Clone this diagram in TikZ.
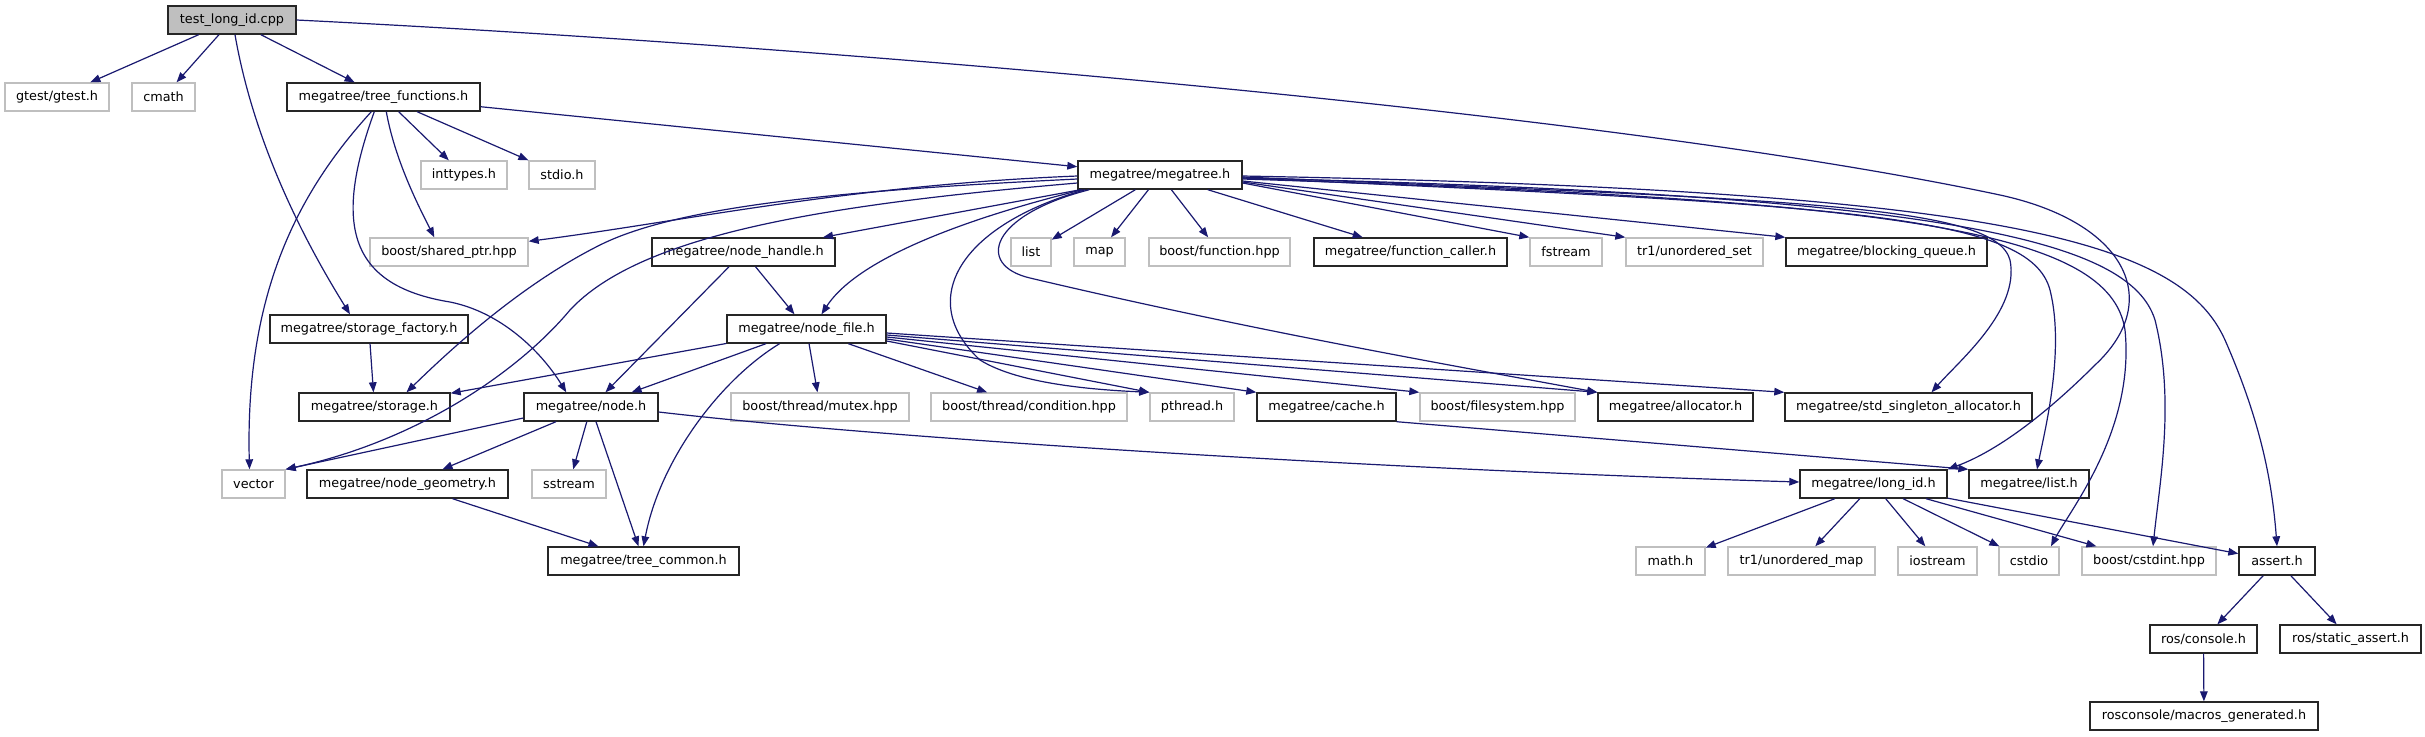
\documentclass[tikz,border=0pt]{standalone}
\usepackage{fontspec}
\setmainfont{DejaVu Sans}
\usetikzlibrary{arrows.meta,calc}
\definecolor{edgeblue}{HTML}{191970}
\definecolor{extgray}{HTML}{BFBFBF}
\tikzset{
  box/.style={draw, rectangle, inner sep=0pt, minimum height=14pt, line width=0.7pt,
    font=\fontsize{6.4}{7.6}\selectfont, text=black, fill=white},
  intbox/.style={box, draw=black!85},
  extbox/.style={box, draw=extgray},
  rootbox/.style={box, draw=black!85, fill=extgray},
  edge/.style={draw=edgeblue, line width=0.6pt, -{Triangle[length=5pt,width=3.8pt]}},
}
\newcommand\bx[6]{\node[#5, minimum width={(#3-#2)*0.5pt}] (#1) at ({(#2+#3)/2},{#4+14}) {#6};}
\begin{document}
\begin{tikzpicture}[x=0.5pt,y=-0.5pt]
\fill[white] (0,0) rectangle (2425,736);
\useasboundingbox (0,0) rectangle (2425,736);
% row 0
\bx{root}{168}{296}{6}{rootbox}{test\_long\_id.cpp}
% row 1
\bx{gtest}{5}{109}{83}{extbox}{gtest/gtest.h}
\bx{cmath}{132}{195}{83}{extbox}{cmath}
\bx{treefn}{287}{480}{83}{intbox}{megatree/tree\_functions.h}
% row 2
\bx{inttypes}{421}{507}{161}{extbox}{inttypes.h}
\bx{stdio}{529}{595}{161}{extbox}{stdio.h}
\bx{megatree}{1078}{1242}{161}{intbox}{megatree/megatree.h}
% row 3
\bx{sharedptr}{370}{528}{238}{extbox}{boost/shared\_ptr.hpp}
\bx{nodehandle}{652}{835}{238}{intbox}{megatree/node\_handle.h}
\bx{list}{1011}{1051}{238}{extbox}{list}
\bx{map}{1074}{1125}{238}{extbox}{map}
\bx{function}{1149}{1290}{238}{extbox}{boost/function.hpp}
\bx{funccaller}{1314}{1507}{238}{intbox}{megatree/function\_caller.h}
\bx{fstream}{1530}{1602}{238}{extbox}{fstream}
\bx{uset}{1626}{1763}{238}{extbox}{tr1/unordered\_set}
\bx{bqueue}{1786}{1987}{238}{intbox}{megatree/blocking\_queue.h}
% row 4
\bx{sfactory}{270}{468}{315}{intbox}{megatree/storage\_factory.h}
\bx{nodefile}{727}{886}{315}{intbox}{megatree/node\_file.h}
% row 5
\bx{storage}{299}{450}{393}{intbox}{megatree/storage.h}
\bx{node}{524}{658}{393}{intbox}{megatree/node.h}
\bx{mutex}{731}{909}{393}{extbox}{boost/thread/mutex.hpp}
\bx{condition}{931}{1127}{393}{extbox}{boost/thread/condition.hpp}
\bx{pthread}{1150}{1234}{393}{extbox}{pthread.h}
\bx{cache}{1257}{1396}{393}{intbox}{megatree/cache.h}
\bx{filesystem}{1420}{1575}{393}{extbox}{boost/filesystem.hpp}
\bx{allocator}{1598}{1753}{393}{intbox}{megatree/allocator.h}
\bx{stdsingleton}{1785}{2032}{393}{intbox}{megatree/std\_singleton\_allocator.h}
% row 6
\bx{vector}{222}{285}{470}{extbox}{vector}
\bx{geometry}{307}{508}{470}{intbox}{megatree/node\_geometry.h}
\bx{sstream}{532}{606}{470}{extbox}{sstream}
\bx{longid}{1800}{1947}{470}{intbox}{megatree/long\_id.h}
\bx{listh}{1969}{2089}{470}{intbox}{megatree/list.h}
% row 7
\bx{treecommon}{548}{739}{547}{intbox}{megatree/tree\_common.h}
\bx{mathh}{1636}{1705}{547}{extbox}{math.h}
\bx{umap}{1728}{1875}{547}{extbox}{tr1/unordered\_map}
\bx{iostream}{1898}{1977}{547}{extbox}{iostream}
\bx{cstdio}{1999}{2059}{547}{extbox}{cstdio}
\bx{cstdint}{2082}{2216}{547}{extbox}{boost/cstdint.hpp}
\bx{assert}{2239}{2315}{547}{intbox}{assert.h}
% row 8
\bx{console}{2150}{2257}{625}{intbox}{ros/console.h}
\bx{staticassert}{2280}{2421}{625}{intbox}{ros/static\_assert.h}
% row 9
\bx{macros}{2090}{2318}{702}{intbox}{rosconsole/macros\_generated.h}

% root edges
\draw[edge] (root) -- (gtest);
\draw[edge] (root) -- (cmath);
\draw[edge] (root) -- (treefn);
\draw[edge] ($(root.south)+(3,0)$) .. controls (255,150) and (310,250) .. ($(sfactory.north)+(-19,0)$);
\draw[edge] (root.east) .. controls (800,45) and (1600,110) .. (2000,195) .. controls (2125,222) and (2165,300) .. (2095,365) .. controls (2050,410) and (2000,450) .. (longid.north east);
% tree_functions edges
\draw[edge] (treefn) -- (inttypes);
\draw[edge] (treefn) -- (stdio);
\draw[edge] ($(treefn.south west)+(100,0)$) .. controls (395,160) and (418,205) .. ($(sharedptr.north west)+(65,0)$);
\draw[edge] ($(treefn.south west)+(85,0)$) .. controls (300,190) and (245,290) .. ($(vector.north)+(-4,0)$);
\draw[edge] ($(treefn.south west)+(88,0)$) .. controls (335,220) and (345,285) .. (450,302) .. controls (500,312) and (540,350) .. ($(node.north west)+(43,0)$);
\draw[edge] (treefn) -- (megatree);
% megatree edges
\draw[edge] ($(megatree.west)+(0,1)$) .. controls (850,185) and (680,222) .. ($(sharedptr.north east)+(0,4)$);
\draw[edge] ($(megatree.west)+(0,4)$) .. controls (850,190) and (680,205) .. (600,245) .. controls (520,285) and (450,350) .. ($(storage.north)+(32,0)$);
\draw[edge] ($(megatree.west)+(0,8)$) .. controls (820,205) and (640,235) .. (570,310) .. controls (520,370) and (420,440) .. (vector.north east);
\draw[edge] (megatree) -- (nodehandle);
\draw[edge] ($(megatree.south west)+(5,0)$) .. controls (980,215) and (860,255) .. ($(nodefile.north)+(15,0)$);
\draw[edge] ($(megatree.south west)+(8,0)$) .. controls (960,225) and (915,300) .. (980,360) .. controls (1020,385) and (1100,390) .. (pthread.north west);
\draw[edge] ($(megatree.south west)+(12,0)$) .. controls (990,215) and (975,265) .. (1030,278) .. controls (1250,330) and (1450,365) .. (allocator.north west);
\draw[edge] (megatree) -- (list);
\draw[edge] (megatree) -- (map);
\draw[edge] (megatree) -- (function);
\draw[edge] (megatree) -- (funccaller);
\draw[edge] ($(megatree.east)+(0,8)$) -- (fstream.north west);
\draw[edge] ($(megatree.east)+(0,7)$) -- (uset.north west);
\draw[edge] ($(megatree.east)+(0,6)$) -- (bqueue.north west);
\draw[edge] ($(megatree.east)+(0,2)$) .. controls (1800,200) and (1995,205) .. (2010,260) .. controls (2020,310) and (1960,360) .. ($(stdsingleton.north)+(23,0)$);
\draw[edge] ($(megatree.east)+(0,3)$) .. controls (1850,205) and (2030,215) .. (2050,290) .. controls (2065,350) and (2045,430) .. ($(listh.north)+(8,0)$);
\draw[edge] ($(megatree.east)+(0,4)$) .. controls (1900,200) and (2110,230) .. (2125,330) .. controls (2135,430) and (2070,510) .. ($(cstdio.north)+(22,0)$);
\draw[edge] ($(megatree.east)+(0,3)$) .. controls (1950,195) and (2130,240) .. (2155,320) .. controls (2175,400) and (2160,480) .. ($(cstdint.north)+(4,0)$);
\draw[edge] ($(megatree.east)+(0,1)$) .. controls (2000,190) and (2180,240) .. (2225,340) .. controls (2260,420) and (2272,480) .. (assert.north);
% node_handle
\draw[edge] (nodehandle) -- (nodefile);
\draw[edge] (nodehandle) -- (node);
% storage_factory
\draw[edge] (sfactory) -- (storage);
% node_file
\draw[edge] (nodefile) -- (storage);
\draw[edge] (nodefile) -- (node);
\draw[edge] ($(nodefile.south)+(-27,0)$) .. controls (720,380) and (660,460) .. (treecommon.north);
\draw[edge] (nodefile) -- (mutex);
\draw[edge] (nodefile) -- (condition);
\draw[edge] ($(nodefile.east)+(0,12)$) -- (pthread.north west);
\draw[edge] ($(nodefile.east)+(0,10)$) -- (cache.north west);
\draw[edge] ($(nodefile.east)+(0,8)$) -- (filesystem.north west);
\draw[edge] ($(nodefile.east)+(0,6)$) -- (allocator.north west);
\draw[edge] ($(nodefile.east)+(0,4)$) -- (stdsingleton.north west);
% node
\draw[edge] ($(node.west)+(0,11)$) -- (vector.north east);
\draw[edge] (node) -- (geometry);
\draw[edge] (node) -- (sstream);
\draw[edge] (node) -- (treecommon);
\draw[edge] ($(node.east)+(0,5)$) .. controls (900,440) and (1400,470) .. ($(longid.west)+(0,-2)$);
% node_geometry
\draw[edge] (geometry) -- (treecommon);
% cache
\draw[edge] (cache.south east) -- (listh.north west);
% long_id
\draw[edge] (longid) -- (mathh);
\draw[edge] (longid) -- (umap);
\draw[edge] (longid) -- (iostream);
\draw[edge] (longid) -- (cstdio);
\draw[edge] (longid) -- (cstdint);
\draw[edge] (longid) -- (assert);
% assert
\draw[edge] (assert) -- (console);
\draw[edge] (assert) -- (staticassert);
\draw[edge] (console) -- (macros);
\end{tikzpicture}
\end{document}
